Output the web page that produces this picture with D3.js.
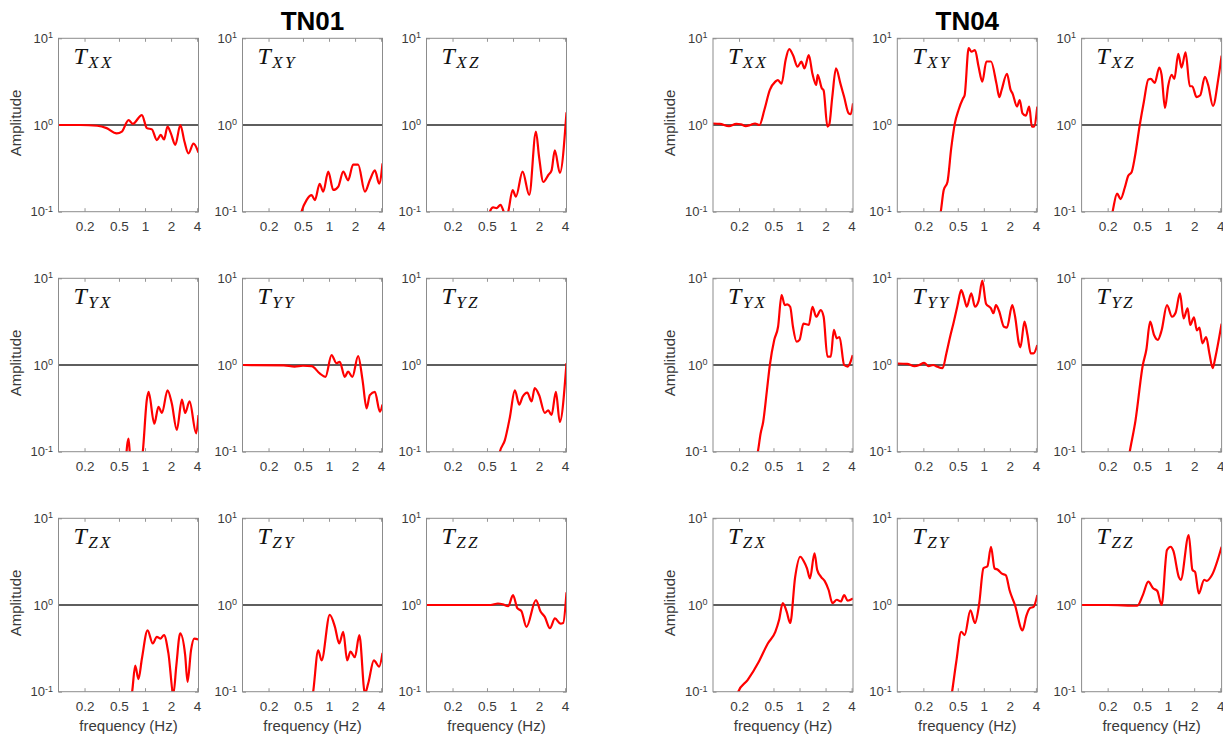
<!DOCTYPE html>
<html>
<head>
<meta charset="utf-8">
<script src="https://cdn.jsdelivr.net/npm/d3@7"></script>
<style>
  body { margin: 0; background: #ffffff; }
  svg text { font-family: "Liberation Sans", Arial, sans-serif; }
</style>
</head>
<body>
<svg id="chart" width="1223" height="737"></svg>
<script>
// Stations, tensor components and axis ticks
const stations = ["TN01", "TN04"];
const components = ["XX", "XY", "XZ", "YX", "YY", "YZ", "ZX", "ZY", "ZZ"];
const frequencyTicks = [0.2, 0.5, 1, 2, 4];
const amplitudeTicks = [0.1, 1, 10];
const amplitudeExponents = ["-1", "0", "1"];
const frequencyDomain = [0.1, 4.15];
const amplitudeDomain = [0.1, 10];

// Transfer-function amplitude, [frequency (Hz), amplitude]
const TN01_XX = [[0.1,1.0],[0.18,1.0],[0.28,0.98],[0.36,0.92],[0.47,0.80],[0.54,0.84],[0.645,1.14],[0.72,1.03],[0.92,1.30],[1.05,0.92],[1.20,0.89],[1.37,0.67],[1.52,0.77],[1.66,0.68],[1.82,0.96],[1.99,0.80],[2.24,0.59],[2.56,1.0],[2.86,0.64],[3.18,0.47],[3.63,0.61],[4.15,0.48]];
const TN01_XY = [[0.46,0.085],[0.48,0.10],[0.55,0.136],[0.63,0.155],[0.686,0.136],[0.78,0.21],[0.857,0.17],[0.98,0.29],[1.12,0.178],[1.28,0.195],[1.46,0.29],[1.66,0.23],[1.90,0.35],[2.17,0.35],[2.6,0.17],[2.96,0.23],[3.39,0.30],[3.8,0.21],[4.15,0.36]];
const TN01_XZ = [[0.52,0.085],[0.54,0.10],[0.59,0.112],[0.645,0.11],[0.716,0.12],[0.78,0.10],[0.83,0.085],[0.88,0.10],[0.99,0.178],[1.08,0.149],[1.29,0.29],[1.54,0.156],[1.84,0.84],[2.0,0.43],[2.24,0.22],[2.56,0.265],[2.79,0.30],[3.04,0.51],[3.48,0.28],[4.15,1.4]];
const TN01_YX = [[0.6,0.08],[0.645,0.142],[0.68,0.08],[0.9,0.08],[0.93,0.09],[1.05,0.40],[1.10,0.49],[1.28,0.21],[1.43,0.33],[1.57,0.28],[1.82,0.51],[2.04,0.36],[2.33,0.178],[2.67,0.40],[2.91,0.28],[3.27,0.38],[3.9,0.163],[4.15,0.265]];
const TN01_YY = [[0.1,1.0],[0.3,0.99],[0.4,0.96],[0.5,0.98],[0.63,0.97],[0.78,0.80],[0.91,0.73],[1.07,1.30],[1.22,1.05],[1.33,1.09],[1.52,0.73],[1.66,0.84],[1.86,0.73],[2.17,1.27],[2.44,0.67],[2.72,0.316],[2.96,0.45],[3.39,0.49],[3.87,0.29],[4.15,0.35]];
const TN01_YZ = [[0.68,0.085],[0.705,0.1],[0.805,0.136],[0.92,0.25],[1.05,0.51],[1.18,0.35],[1.29,0.43],[1.46,0.48],[1.64,0.38],[1.78,0.54],[2.0,0.45],[2.33,0.28],[2.55,0.30],[2.79,0.265],[3.13,0.49],[3.47,0.22],[4.15,1.05]];
const TN01_ZX = [[0.69,0.085],[0.71,0.1],[0.77,0.20],[0.84,0.14],[0.92,0.24],[1.07,0.51],[1.23,0.36],[1.37,0.43],[1.50,0.41],[1.66,0.45],[1.86,0.28],[2.13,0.095],[2.3,0.2],[2.55,0.47],[2.91,0.265],[3.1,0.13],[3.4,0.3],[3.7,0.41],[4.15,0.40]];
const TN01_ZY = [[0.64,0.085],[0.656,0.1],[0.75,0.30],[0.82,0.23],[1.02,0.77],[1.17,0.56],[1.31,0.36],[1.46,0.49],[1.62,0.23],[1.77,0.29],[1.99,0.25],[2.24,0.45],[2.6,0.095],[2.84,0.125],[3.3,0.23],[3.8,0.195],[4.15,0.28]];
const TN01_ZZ = [[0.1,1.0],[0.3,1.0],[0.55,1.0],[0.67,1.04],[0.76,1.02],[0.88,0.97],[1.0,1.30],[1.12,0.92],[1.25,0.85],[1.43,0.56],[1.84,1.14],[2.08,0.84],[2.33,0.73],[2.67,0.54],[3.05,0.70],[3.54,0.61],[3.8,0.62],[4.15,1.40]];

const TN04_XX = [[0.1,1.04],[0.12,1.03],[0.153,0.97],[0.186,1.03],[0.21,1.02],[0.239,0.97],[0.27,1.0],[0.306,1.04],[0.344,1.0],[0.392,1.49],[0.454,2.54],[0.525,3.16],[0.56,3.3],[0.62,3.0],[0.69,5.6],[0.76,7.5],[0.84,6.4],[0.95,4.7],[1.05,5.4],[1.14,4.5],[1.28,6.4],[1.41,3.9],[1.56,2.9],[1.62,3.8],[1.81,2.65],[1.9,2.5],[2.1,0.96],[2.2,1.0],[2.39,2.1],[2.64,4.5],[2.97,3.0],[3.28,2.1],[3.70,1.36],[3.9,1.33],[4.15,1.78]];
const TN04_XY = [[0.31,0.085],[0.318,0.1],[0.344,0.178],[0.38,0.22],[0.42,0.54],[0.463,1.05],[0.51,1.49],[0.576,2.03],[0.60,2.2],[0.668,7.7],[0.72,7.0],[0.79,7.3],[0.87,4.7],[0.96,3.16],[1.07,5.4],[1.21,5.4],[1.40,3.0],[1.51,2.1],[1.6,2.5],[1.85,3.9],[2.04,2.54],[2.15,2.3],[2.42,1.63],[2.6,1.94],[2.8,1.36],[3.05,1.28],[3.35,1.63],[3.59,0.96],[3.8,0.96],[4.15,1.63]];
const TN04_XZ = [[0.22,0.085],[0.228,0.1],[0.257,0.162],[0.282,0.14],[0.316,0.19],[0.346,0.26],[0.378,0.285],[0.413,0.43],[0.47,1.0],[0.525,1.87],[0.59,3.35],[0.63,3.4],[0.70,3.06],[0.79,4.6],[0.84,3.8],[0.92,1.57],[1.0,2.8],[1.10,3.8],[1.18,3.4],[1.31,6.6],[1.43,4.6],[1.59,6.9],[1.78,2.8],[1.9,2.8],[2.13,2.1],[2.35,2.2],[2.66,3.6],[2.9,2.9],[3.3,1.66],[3.8,3.4],[4.15,6.3]];
const TN04_YX = [[0.32,0.085],[0.33,0.1],[0.355,0.162],[0.38,0.22],[0.42,0.51],[0.454,1.0],[0.51,1.94],[0.565,2.76],[0.62,6.4],[0.676,4.9],[0.72,5.0],[0.78,4.7],[0.84,2.76],[0.925,1.86],[1.0,1.95],[1.11,3.0],[1.2,2.95],[1.28,2.9],[1.41,4.7],[1.56,3.6],[1.76,4.3],[1.9,3.6],[2.1,1.25],[2.3,1.25],[2.49,2.54],[2.69,2.03],[2.9,2.1],[3.28,1.0],[3.6,0.96],[3.8,1.03],[4.12,1.30]];
const TN04_YY = [[0.1,1.04],[0.13,1.03],[0.158,0.97],[0.18,1.0],[0.204,1.06],[0.23,0.97],[0.26,1.0],[0.28,0.97],[0.334,0.92],[0.369,1.36],[0.407,2.1],[0.45,3.16],[0.497,4.9],[0.548,7.3],[0.59,6.0],[0.635,4.7],[0.716,6.7],[0.79,4.7],[0.87,5.5],[0.96,9.4],[1.06,5.1],[1.21,4.5],[1.29,3.95],[1.38,4.9],[1.5,4.2],[1.71,2.76],[1.85,2.7],[2.13,4.9],[2.3,3.6],[2.54,1.78],[2.65,1.6],[2.95,3.16],[3.2,2.2],[3.48,1.36],[3.75,1.36],[4.15,1.70]];
const TN04_YZ = [[0.35,0.085],[0.36,0.1],[0.42,0.23],[0.51,1.0],[0.56,1.5],[0.62,3.16],[0.69,2.2],[0.76,1.95],[0.84,2.5],[0.97,4.9],[1.11,3.6],[1.22,4.0],[1.37,6.7],[1.51,3.45],[1.68,4.5],[1.8,2.9],[1.99,3.55],[2.15,2.5],[2.3,2.7],[2.49,1.78],[2.75,2.1],[3.0,1.36],[3.28,0.92],[3.5,1.2],[4.15,3.0]];
const TN04_ZX = [[0.19,0.085],[0.196,0.1],[0.251,0.136],[0.337,0.22],[0.43,0.36],[0.525,0.49],[0.58,0.67],[0.64,1.05],[0.71,0.84],[0.78,0.62],[0.89,2.1],[1.02,3.6],[1.12,3.2],[1.22,2.65],[1.32,2.03],[1.49,3.95],[1.6,2.54],[1.78,2.1],[1.95,1.9],[2.17,1.49],[2.4,1.05],[2.7,1.15],[3.0,1.1],[3.28,1.30],[3.6,1.12],[4.15,1.19]];
const TN04_ZY = [[0.42,0.085],[0.43,0.1],[0.48,0.22],[0.548,0.49],[0.6,0.45],[0.70,0.87],[0.79,0.62],[0.88,1.0],[0.99,2.65],[1.1,2.8],[1.21,4.7],[1.33,2.65],[1.45,2.55],[1.62,2.3],[1.8,2.2],[1.98,1.49],[2.29,1.0],[2.8,0.51],[3.1,0.75],[3.41,0.92],[3.75,0.95],[4.15,1.30]];
const TN04_ZZ = [[0.1,1.0],[0.2,1.0],[0.3,0.99],[0.44,0.98],[0.51,1.30],[0.59,1.86],[0.67,1.56],[0.75,1.45],[0.84,1.0],[0.97,4.3],[1.07,4.7],[1.15,4.2],[1.33,2.1],[1.4,1.95],[1.73,6.4],[1.91,2.54],[2.05,2.4],[2.26,1.36],[2.61,1.95],[2.8,1.9],[3.2,2.2],[4.15,4.7]];

const transfer = {
  TN01: { XX: TN01_XX, XY: TN01_XY, XZ: TN01_XZ, YX: TN01_YX, YY: TN01_YY, YZ: TN01_YZ, ZX: TN01_ZX, ZY: TN01_ZY, ZZ: TN01_ZZ },
  TN04: { XX: TN04_XX, XY: TN04_XY, XZ: TN04_XZ, YX: TN04_YX, YY: TN04_YY, YZ: TN04_YZ, ZX: TN04_ZX, ZY: TN04_ZY, ZZ: TN04_ZZ }
};

// Panel geometry
const W = 140, H = 173.4;
const groupLeft = { TN01: 58.5, TN04: 713 };
const colStep = { TN01: 184, TN04: 184.3 };
const rowTop = [38.3, 278.3, 518.3];

const svg = d3.select("#chart");
const x = d3.scaleLog().domain(frequencyDomain).range([0, W]);
const y = d3.scaleLog().domain(amplitudeDomain).range([H, 0]);
const line = d3.line()
  .x(d => x(d[0]))
  .y(d => y(d[1]))
  .curve(d3.curveMonotoneX);

const tickColor = "#7a7a7a";
const labelColor = "#3a3a3a";

stations.forEach(st => {
  components.forEach((c, i) => {
    const r = Math.floor(i / 3), col = i % 3;
    const left = groupLeft[st] + col * colStep[st];
    const g = svg.append("g").attr("transform", `translate(${left},${rowTop[r]})`);
    const clipId = `clip-${st}-${c}`;
    g.append("clipPath").attr("id", clipId)
      .append("rect").attr("width", W).attr("height", H);

    g.append("rect").attr("width", W).attr("height", H).attr("fill", "#ffffff");

    // Bottom axis with frequency labels, inward ticks
    const gx = g.append("g").attr("transform", `translate(0,${H})`)
      .call(d3.axisBottom(x).tickValues(frequencyTicks).tickSizeInner(-3.5).tickSizeOuter(0)
        .tickPadding(10).tickFormat(d3.format("~g")));
    // Top axis, ticks only
    const gt = g.append("g")
      .call(d3.axisTop(x).tickValues(frequencyTicks).tickSizeInner(-3.5).tickSizeOuter(0).tickFormat(""));
    // Left axis with 10^n labels
    const gy = g.append("g")
      .call(d3.axisLeft(y).tickValues(amplitudeTicks).tickSizeInner(-3.5).tickSizeOuter(0).tickPadding(5.5));
    // Right axis, ticks only
    const gr = g.append("g").attr("transform", `translate(${W},0)`)
      .call(d3.axisRight(y).tickValues(amplitudeTicks).tickSizeInner(-3.5).tickSizeOuter(0).tickFormat(""));

    [gx, gt, gy, gr].forEach(a => {
      a.select(".domain").remove();
      a.selectAll(".tick line").attr("stroke", tickColor).attr("stroke-width", 0.8);
      a.selectAll(".tick text").attr("fill", labelColor)
        .attr("font-family", '"Liberation Sans", Arial, sans-serif');
    });
    gx.selectAll(".tick text").attr("font-size", 13.5);
    gy.selectAll(".tick text").attr("font-size", 13).each(function (d, k) {
      const t = d3.select(this);
      t.text(null);
      t.append("tspan").text("10");
      t.append("tspan").attr("dy", "-0.5em").attr("font-size", 9).text(amplitudeExponents[k]);
    });

    // Unit amplitude reference line
    g.append("line")
      .attr("x1", 0).attr("x2", W)
      .attr("y1", y(1)).attr("y2", y(1))
      .attr("stroke", "#5e5e5e").attr("stroke-width", 1.8);

    // Amplitude curve
    g.append("path")
      .datum(transfer[st][c])
      .attr("clip-path", `url(#${clipId})`)
      .attr("d", line)
      .attr("fill", "none")
      .attr("stroke", "#ff0000")
      .attr("stroke-width", 2.2)
      .attr("stroke-linejoin", "round");

    // Box
    g.append("rect").attr("width", W).attr("height", H)
      .attr("fill", "none").attr("stroke", "#8c8c8c").attr("stroke-width", 1);

    // Component label T_ij
    const lab = g.append("text")
      .attr("x", 15).attr("y", 26)
      .style("font-family", '"Liberation Serif", "Times New Roman", serif')
      .style("font-style", "italic")
      .attr("font-size", 24)
      .attr("fill", "#111");
    lab.append("tspan").text("T");
    lab.append("tspan").attr("dx", 1.5).attr("dy", 3.5).attr("font-size", 17)
      .attr("letter-spacing", 2.2).text(c);

    // Axis titles
    if (col === 0) {
      g.append("text")
        .attr("transform", `translate(-38,${H / 2 - 2}) rotate(-90)`)
        .attr("text-anchor", "middle")
        .attr("font-size", 15)
        .attr("fill", labelColor)
        .text("Amplitude");
    }
    if (r === 2) {
      g.append("text")
        .attr("x", W / 2).attr("y", H + 39)
        .attr("text-anchor", "middle")
        .attr("font-size", 15)
        .attr("fill", labelColor)
        .text("frequency (Hz)");
    }
  });

  // Station title centred over the middle column
  svg.append("text")
    .attr("x", groupLeft[st] + colStep[st] + W / 2)
    .attr("y", 30)
    .attr("text-anchor", "middle")
    .attr("font-size", 26)
    .attr("font-weight", "bold")
    .attr("fill", "#000")
    .text(st);
});
</script>
</body>
</html>
